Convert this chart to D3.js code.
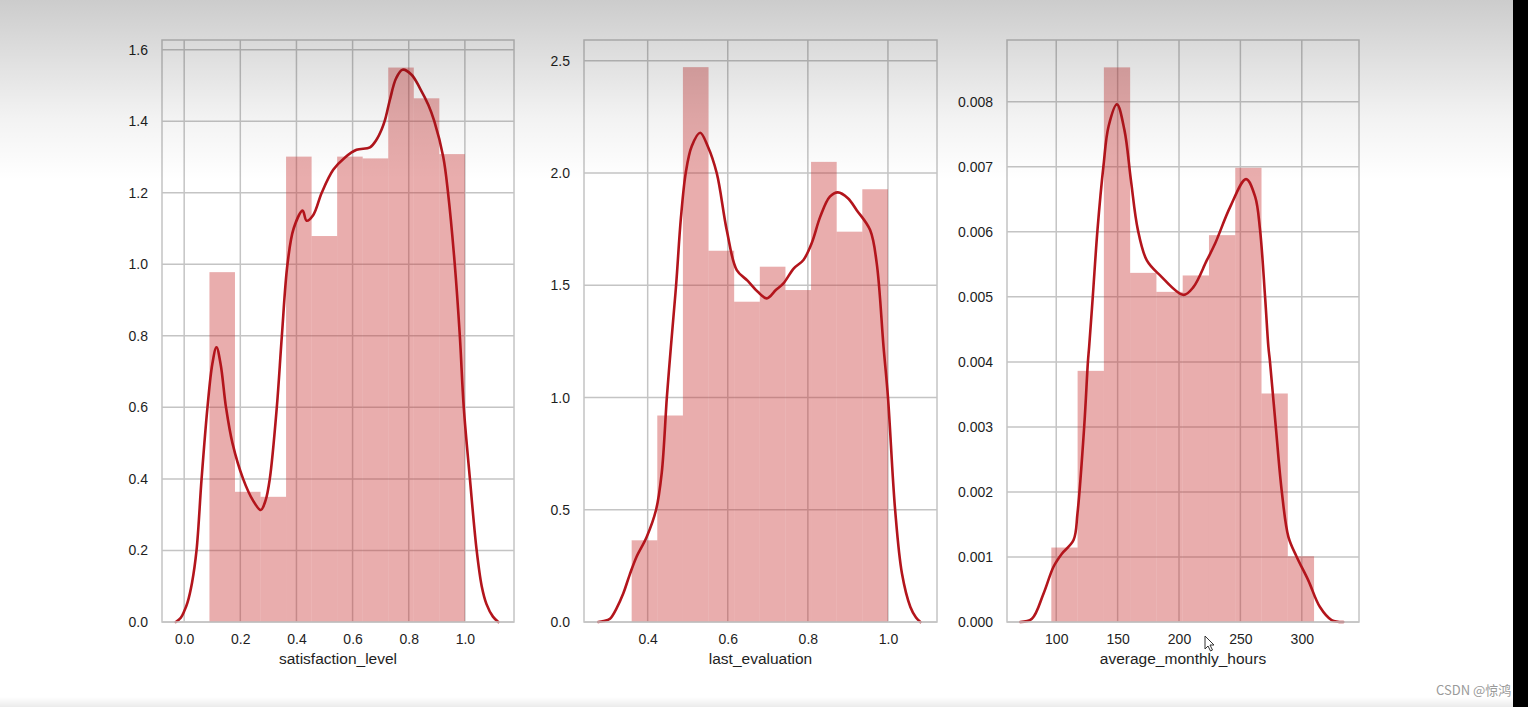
<!DOCTYPE html>
<html><head><meta charset="utf-8">
<script src="https://cdn.jsdelivr.net/npm/d3@7"></script>
<style>html,body{margin:0;padding:0;background:#fff;}svg{display:block;}</style>
</head><body>
<svg id="chart" width="1528" height="707"></svg>
<script>
// ---------- data ----------
const satEdges   = [0.09,0.181,0.272,0.363,0.454,0.545,0.636,0.727,0.818,0.909,1.0];
const satHeights = [0.978,0.364,0.350,1.301,1.079,1.301,1.296,1.550,1.464,1.308];
const satKdeX = [-0.03,-0.012,0.0,0.012,0.028,0.044,0.062,0.083,0.1,0.115,0.13,0.149,0.172,0.21,0.245,0.273,0.29,0.305,0.33,0.348,0.368,0.39,0.422,0.436,0.46,0.49,0.531,0.572,0.614,0.662,0.685,0.703,0.715,0.733,0.755,0.778,0.81,0.84,0.87,0.891,0.923,0.94,0.964,0.982,0.996,1.018,1.042,1.06,1.077,1.1,1.119];
const satKdeY = [0,0.012,0.03,0.055,0.11,0.2,0.4,0.6,0.72,0.768,0.72,0.6,0.5,0.4,0.34,0.313,0.34,0.4,0.6,0.8,1.0,1.1,1.15,1.122,1.138,1.2,1.264,1.298,1.32,1.327,1.348,1.376,1.402,1.46,1.52,1.544,1.53,1.492,1.445,1.4,1.3,1.2,1.0,0.8,0.6,0.4,0.2,0.1,0.05,0.015,0];
const satXTicks = [0.0,0.2,0.4,0.6,0.8,1.0];
const satYTicks = [0.0,0.2,0.4,0.6,0.8,1.0,1.2,1.4,1.6];

const evalEdges   = [0.36,0.424,0.488,0.552,0.616,0.68,0.744,0.808,0.872,0.936,1.0];
const evalHeights = [0.364,0.920,2.472,1.654,1.427,1.583,1.479,2.050,1.739,1.928];
const evalKdeX = [0.2765,0.29,0.306,0.322,0.339,0.355,0.372,0.3975,0.421,0.435,0.448,0.458,0.471,0.483,0.495,0.51,0.531,0.55,0.5725,0.5975,0.6225,0.65,0.675,0.6975,0.72,0.739,0.765,0.789,0.81,0.831,0.855,0.875,0.9,0.922,0.9555,0.972,0.989,1.0,1.018,1.035,1.056,1.07,1.081];
const evalKdeY = [0,0.004,0.015,0.06,0.127,0.21,0.29,0.379,0.5,0.662,1.003,1.226,1.501,1.8,2.0,2.12,2.18,2.12,2.0,1.746,1.568,1.52,1.471,1.442,1.479,1.509,1.576,1.613,1.69,1.806,1.895,1.914,1.888,1.835,1.746,1.598,1.226,1.003,0.498,0.216,0.067,0.02,0];
const evalXTicks = [0.4,0.6,0.8,1.0];
const evalYTicks = [0.0,0.5,1.0,1.5,2.0,2.5];

const hoursEdges   = [96,117.4,138.8,160.2,181.6,203,224.4,245.8,267.2,288.6,310];
const hoursHeights = [0.001145,0.003862,0.008529,0.005369,0.005077,0.005329,0.005949,0.006985,0.003514,0.001011];
const hoursKdeX = [70.7,80.2,89.7,97.8,104.6,114.1,117.3,122.8,125.8,126.8,129.8,133.6,138.5,142.6,149.4,155.6,160.8,166.5,173.8,184.6,203.6,211.7,222.6,229.4,241.6,254.6,262,266,270.1,272.8,274.1,278.8,283.7,289.1,295.9,305.3,314.8,324.3,333.8];
const hoursKdeY = [0,0.00005,0.00044,0.00085,0.00105,0.00126,0.00167,0.00301,0.004,0.00423,0.00501,0.00603,0.00702,0.00762,0.00796,0.00756,0.0068,0.00603,0.00556,0.00533,0.00503,0.00515,0.00556,0.00582,0.00638,0.00681,0.00654,0.00603,0.005,0.00423,0.004,0.00301,0.00201,0.00131,0.001,0.00064,0.00023,0.00003,0];
const hoursXTicks = [100,150,200,250,300];
const hoursYTicks = [0.000,0.001,0.002,0.003,0.004,0.005,0.006,0.007,0.008];

const panels = [
  {label:"satisfaction_level", edges:satEdges, heights:satHeights, kx:satKdeX, ky:satKdeY,
   xt:satXTicks, yt:satYTicks, xfmt:".1f", yfmt:".1f", xdom:[-0.079,1.175], ydom:[0,1.627], left:162, right:514},
  {label:"last_evaluation", edges:evalEdges, heights:evalHeights, kx:evalKdeX, ky:evalKdeY,
   xt:evalXTicks, yt:evalYTicks, xfmt:".1f", yfmt:".1f", xdom:[0.241,1.1225], ydom:[0,2.593], left:584, right:937},
  {label:"average_monthly_hours", edges:hoursEdges, heights:hoursHeights, kx:hoursKdeX, ky:hoursKdeY,
   xt:hoursXTicks, yt:hoursYTicks, xfmt:"d", yfmt:".3f", xdom:[59.9,346.6], ydom:[0,0.00895], left:1007, right:1359}
];

// ---------- drawing ----------
(function(){
const svg = d3.select("#chart");
const plotTop = 40, plotBottom = 622;
const gridColor = "#c4c4c4";
const font = "'Liberation Sans', Arial, sans-serif";

svg.append("rect").attr("width",1528).attr("height",707).attr("fill","#fff");

panels.forEach(p => {
  const x = d3.scaleLinear().domain(p.xdom).range([p.left, p.right]);
  const y = d3.scaleLinear().domain(p.ydom).range([plotBottom, plotTop]);
  const g = svg.append("g");

  g.selectAll(".vg").data(p.xt).join("line")
    .attr("x1", d=>x(d)).attr("x2", d=>x(d)).attr("y1", plotTop).attr("y2", plotBottom)
    .attr("stroke", gridColor).attr("stroke-width", 1.5);
  g.selectAll(".hg").data(p.yt).join("line")
    .attr("x1", p.left).attr("x2", p.right).attr("y1", d=>y(d)).attr("y2", d=>y(d))
    .attr("stroke", gridColor).attr("stroke-width", 1.5);

  const bins = p.heights.map((h,i)=>({x0:p.edges[i], x1:p.edges[i+1], h}));
  g.selectAll(".bar").data(bins).join("rect")
    .attr("x", d=>x(d.x0)).attr("width", d=>x(d.x1)-x(d.x0))
    .attr("y", d=>y(d.h)).attr("height", d=>y(0)-y(d.h))
    .attr("fill", "rgb(200,50,50)").attr("fill-opacity", 0.4);

  const pts = p.kx.map((v,i)=>[v, p.ky[i]]);
  g.append("path").datum(pts)
    .attr("d", d3.line().x(d=>x(d[0])).y(d=>Math.min(y(d[1]), plotBottom)).curve(d3.curveCatmullRom.alpha(0.5)))
    .attr("fill","none").attr("stroke","#b3151c").attr("stroke-width",2.6)
    .attr("stroke-linejoin","round").attr("stroke-linecap","round");

  g.append("rect").attr("x", p.left).attr("y", plotTop)
    .attr("width", p.right-p.left).attr("height", plotBottom-plotTop)
    .attr("fill","none").attr("stroke", gridColor).attr("stroke-width", 1.5);

  const xa = g.append("g").attr("transform", `translate(0,${plotBottom})`)
    .call(d3.axisBottom(x).tickValues(p.xt).tickFormat(d3.format(p.xfmt)).tickSize(0).tickPadding(12));
  xa.select(".domain").remove();
  xa.selectAll("text").attr("font-family", font).attr("font-size", 14).attr("fill","#1e1e1e");

  const ya = g.append("g").attr("transform", `translate(${p.left},0)`)
    .call(d3.axisLeft(y).tickValues(p.yt).tickFormat(d3.format(p.yfmt)).tickSize(0).tickPadding(14));
  ya.select(".domain").remove();
  ya.selectAll("text").attr("font-family", font).attr("font-size", 14).attr("fill","#1e1e1e");

  g.append("text").attr("x", (p.left+p.right)/2).attr("y", 664)
    .attr("text-anchor","middle").attr("font-family", font).attr("font-size", 15.5)
    .attr("fill","#1e1e1e").text(p.label);
});

// mouse cursor seen in the screenshot
svg.append("path").attr("transform","translate(1205,636)")
  .attr("d","M0,0 L0,13 L3,10 L5.5,15 L7.5,14 L5,9 L9,9 Z")
  .attr("fill","#fff").attr("stroke","#333").attr("stroke-width",1);

const defs = svg.append("defs");
const lg = defs.append("linearGradient").attr("id","topfade").attr("x1",0).attr("y1",0).attr("x2",0).attr("y2",1);
[[0,0.2],[0.3,0.13],[0.65,0.05],[1,0]].forEach(s=>lg.append("stop").attr("offset",s[0]).attr("stop-color","#000").attr("stop-opacity",s[1]));
svg.append("rect").attr("x",0).attr("y",0).attr("width",1528).attr("height",180)
  .attr("fill","url(#topfade)").attr("pointer-events","none");

const bg = defs.append("linearGradient").attr("id","botfade").attr("x1",0).attr("y1",0).attr("x2",0).attr("y2",1);
[[0,0],[1,0.08]].forEach(s=>bg.append("stop").attr("offset",s[0]).attr("stop-color","#000").attr("stop-opacity",s[1]));
svg.append("rect").attr("x",0).attr("y",697).attr("width",1528).attr("height",10).attr("fill","url(#botfade)");

svg.append("text").attr("x",1436).attr("y",695).attr("font-family","'Noto Sans CJK SC', sans-serif")
  .attr("font-size",13).attr("fill","#9a9a9a").text("CSDN @惊鸿");

svg.append("rect").attr("x",1513).attr("y",0).attr("width",15).attr("height",707).attr("fill","#000");
})();
</script>
</body></html>
